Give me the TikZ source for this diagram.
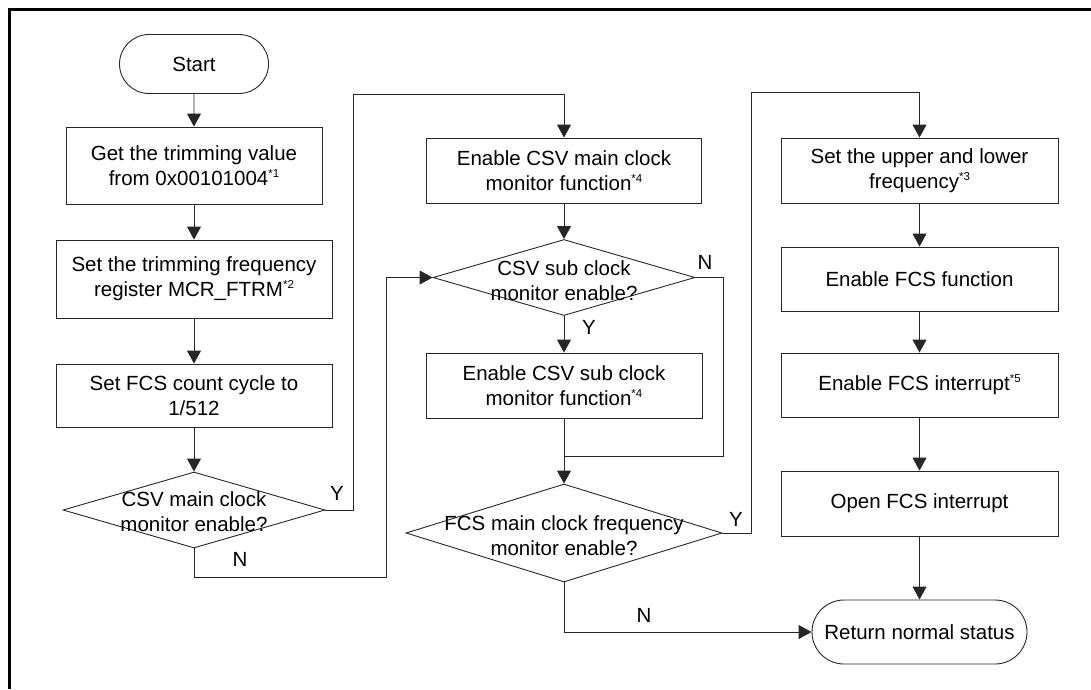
\documentclass[tikz,border=0pt]{standalone}
\usepackage{fontspec}
\setmainfont{Liberation Sans}
\usetikzlibrary{shapes.geometric,shapes.misc,arrows.meta}
\newcommand{\fnote}[1]{\raisebox{8pt}{\fontsize{11.5}{11.5}\selectfont*#1}}
\tikzset{
  base/.style={draw=black!85, line width=0.9pt, font=\fontsize{20.5}{25}\selectfont, align=center, inner sep=0pt},
  procbox/.style={base, rectangle, minimum width=276pt, minimum height=65pt},
  termbox/.style={base, rounded rectangle, minimum height=62pt},
  decbox/.style={base, diamond, minimum width=262pt, minimum height=76pt},
  dtext/.style={font=\fontsize{20.5}{25}\selectfont, align=center, inner sep=0pt},
  lbl/.style={font=\fontsize{20.5}{25}\selectfont, inner sep=0pt},
  conn/.style={draw=black!85, line width=0.9pt},
  arr/.style={conn, -{Triangle[length=13pt,width=14pt]}},
}
\begin{document}
\begin{tikzpicture}[x=1pt,y=-1pt]
\useasboundingbox (0,0) rectangle (1091,689);
\draw[line width=3pt] (9,689) -- (9,9) -- (1092,9);

% column 1
\node[termbox, minimum width=149pt, minimum height=59pt] (start) at (194,64) {Start};
\node[procbox, minimum width=256pt, minimum height=77pt] (b1) at (194,165.5) {Get the trimming value\\from 0x00101004\fnote{1}};
\node[procbox, minimum height=78pt] (b2) at (194,279) {Set the trimming frequency\\register MCR\_FTRM\fnote{2}};
\node[procbox, minimum height=63pt] (b3) at (194,395.5) {Set FCS count cycle to\\1/512};
\node[decbox] (d1) at (194,510) {};
\node[dtext] (d1t) at (194,512) {CSV main clock\\monitor enable?};

% column 2
\node[procbox, minimum width=275pt] (b4) at (564,170.5) {Enable CSV main clock\\monitor function\fnote{4}};
\node[decbox] (d2) at (564,277.5) {};
\node[dtext] (d2t) at (564,281) {CSV sub clock\\monitor enable?};
\node[procbox] (b5) at (564,385.5) {Enable CSV sub clock\\monitor function\fnote{4}};
\node[decbox, minimum width=316pt, minimum height=98pt] (d3) at (564,533) {};
\node[dtext] (d3t) at (564,536) {FCS main clock frequency\\monitor enable?};

% column 3
\node[procbox, minimum width=277pt] (b6) at (919.5,170.5) {Set the upper and lower\\frequency\fnote{3}};
\node[procbox, minimum width=277pt, minimum height=64pt] (b7) at (919.5,279) {Enable FCS function};
\node[procbox, minimum width=277pt, minimum height=64pt] (b8) at (919.5,385) {Enable FCS interrupt\fnote{5}};
\node[procbox, minimum width=277pt] (b9) at (919.5,503.5) {Open FCS interrupt};
\node[termbox, minimum width=215pt, minimum height=64pt] (ret) at (919.5,632) {Return normal status};

% helper coordinates
\coordinate (y1a) at (353,94);
\coordinate (n1a) at (386,577);
\coordinate (n2a) at (723,456);
\coordinate (m) at (564,456);
\coordinate (y3a) at (751,92);

% connectors
\draw[arr] (start) -- (b1);
\draw[arr] (b1) -- (b2);
\draw[arr] (b2) -- (b3);
\draw[arr] (b3) -- (d1.north);
\draw[arr] (d1.east) -| (y1a) -| (b4.north);
\draw[arr] (d1.south) |- (n1a) |- (d2.west);
\draw[arr] (b4) -- (d2.north);
\draw[arr] (d2.south) -- (b5.north);
\draw[conn] (d2.east) -| (n2a) -- (m);
\draw[arr] (b5.south) -- (d3.north);
\draw[arr] (d3.east) -| (y3a) -| (b6.north);
\draw[arr] (d3.south) |- (ret.west);
\draw[arr] (b6) -- (b7);
\draw[arr] (b7) -- (b8);
\draw[arr] (b8) -- (b9);
\draw[arr] (b9) -- (ret);

% labels
\node[lbl] (ly1) at (337,493) {Y};
\node[lbl] (ln1) at (240,559) {N};
\node[lbl] (ln2) at (705,262) {N};
\node[lbl] (ly2) at (589,327) {Y};
\node[lbl] (ly3) at (736,519) {Y};
\node[lbl] (ln3) at (644,615) {N};
\end{tikzpicture}
\end{document}
